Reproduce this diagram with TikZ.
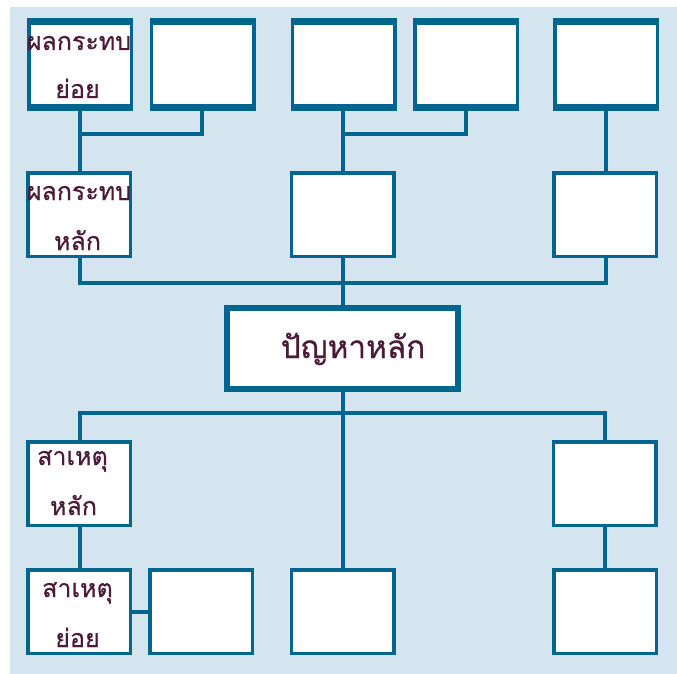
\documentclass[tikz,border=0pt]{standalone}
\usepackage{fontspec}
\newfontfamily\thaifont[Script=Thai,FakeBold=0.6]{Loma}
\definecolor{edge}{HTML}{00668F}
\definecolor{panel}{HTML}{D5E5F0}
\definecolor{ink}{HTML}{4B1A38}
\tikzset{
  box/.style={draw=edge, fill=white, line width=3.5pt, inner sep=0pt,
    minimum width=102.5pt, minimum height=83.5pt},
  topbox/.style={box, minimum height=85.5pt},
  mainbox/.style={draw=edge, fill=white, line width=6pt, inner sep=0pt,
    minimum width=231pt, minimum height=81pt},
  link/.style={draw=edge, line width=3.5pt, line join=miter},
  trunk/.style={link, line width=4.5pt},
  lbl/.style={font=\thaifont\fontsize{25}{25}\selectfont, text=ink,
    anchor=base, inner sep=0pt},
  mainlbl/.style={lbl, font=\thaifont\fontsize{31.5}{31.5}\selectfont},
}
\begin{document}
\begin{tikzpicture}[x=1pt,y=-1pt]
\useasboundingbox (0,0) rectangle (677,674);
\fill[panel] (10,7) rectangle (677,674);

% junction points of the connector tree
\coordinate (j1) at (80,134);
\coordinate (j2) at (343,134);
\coordinate (h2) at (343,283);
\coordinate (h3) at (343,413);

% connectors (drawn first, boxes cover their ends)
\draw[link] (80,109) -- (80,171);
\draw[link] (202,109) |- (j1);
\draw[link] (343,109) -- (343,171);
\draw[link] (466,109) |- (j2);
\draw[link] (606,109) -- (606,171);
\draw[trunk] (80,258) |- (h2) -| (606,258);
\draw[link] (343,258) -- (343,305);
\draw[link] (343,392) -- (343,568);
\draw[link] (80,440) |- (h3) -| (605,440);
\draw[link] (80,527) -- (80,568);
\draw[link] (605,527) -- (605,568);
\draw[link] (132,612) -- (148,612);

% top row: effects in detail
\node[topbox] (A1) at (80,64.5) {};
\node[topbox] (A2) at (202.5,64.5) {};
\node[topbox] (A3) at (343.5,64.5) {};
\node[topbox] (A4) at (466,64.5) {};
\node[topbox] (A5) at (606,64.5) {};
\foreach \n in {A1,A2,A3,A4,A5}{
  \fill[edge] ([yshift=1.75pt]\n.north west) rectangle ([yshift=-4.8pt]\n.north east);
  \fill[edge] ([yshift=-1.75pt]\n.south west) rectangle ([yshift=4.8pt]\n.south east);
}

% second row: main effects
\node[box] (B1) at (79,214.5) {};
\node[box] (B2) at (342.5,214.5) {};
\node[box] (B3) at (605,214.5) {};

% the central problem
\node[mainbox] (M) at (342.5,348.5) {};

% causes
\node[box] (C1) at (79,483.5) {};
\node[box] (C3) at (604.5,483.5) {};
\node[box] (D1) at (79,611.5) {};
\node[box] (D2) at (201,611.5) {};
\node[box] (D3) at (342.5,611.5) {};
\node[box] (D4) at (605,611.5) {};

% labels
\node[lbl] (tA1a) at (79,50) {ผลกระทบ};
\node[lbl] (tA1b) at (77.5,98) {ย่อย};
\node[lbl] (tB1a) at (79,200) {ผลกระทบ};
\node[lbl] (tB1b) at (77.5,250) {หลัก};
\node[mainlbl] (tM) at (353,358) {ปัญหาหลัก};
\node[lbl] (tC1a) at (72.5,465) {สาเหตุ};
\node[lbl] (tC1b) at (73.5,515) {หลัก};
\node[lbl] (tD1a) at (77.5,597) {สาเหตุ};
\node[lbl] (tD1b) at (77.5,647) {ย่อย};
\end{tikzpicture}
\end{document}
